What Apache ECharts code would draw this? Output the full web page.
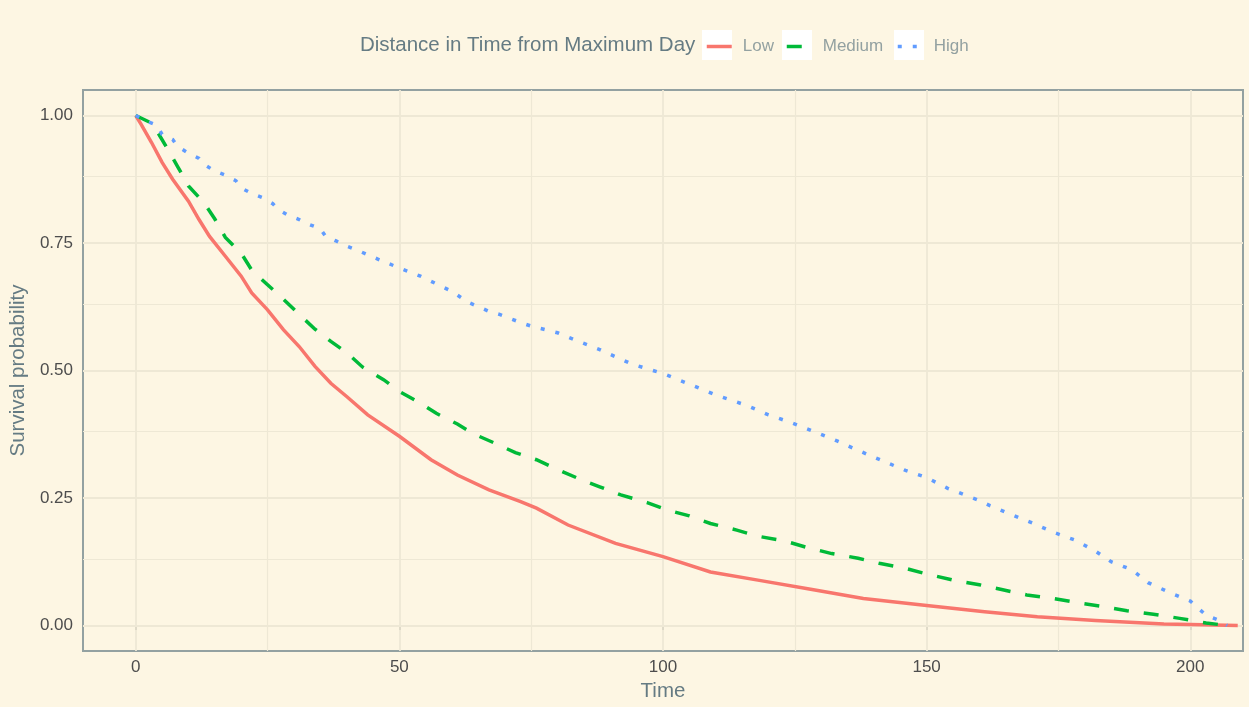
<!DOCTYPE html>
<html>
<head>
<meta charset="utf-8">
<script src="https://cdn.jsdelivr.net/npm/echarts@6/dist/echarts.min.js"></script>
<style>
  html, body { margin: 0; padding: 0; background: #FDF6E3; }
  #chart { width: 1249px; height: 707px; }
</style>
</head>
<body>
<div id="chart"></div>
<script>
// Kaplan-Meier survival estimates by distance-in-time group
const lowTime = [0, 1, 3, 5, 7, 10, 12, 14, 17, 20, 22, 25, 28, 31, 34, 37, 40, 44, 50, 56, 61, 67, 73, 76, 82, 91, 100, 109, 118, 128, 138, 150, 161, 171, 182, 195, 200, 209];
const lowSurv = [1.000, 0.983, 0.947, 0.908, 0.875, 0.832, 0.796, 0.763, 0.724, 0.685, 0.652, 0.619, 0.580, 0.547, 0.508, 0.475, 0.449, 0.413, 0.371, 0.325, 0.295, 0.266, 0.243, 0.230, 0.197, 0.161, 0.135, 0.105, 0.089, 0.071, 0.053, 0.039, 0.027, 0.017, 0.010, 0.003, 0.002, 0.000];

const medTime = [0, 3, 4, 6, 8, 10, 13, 15, 17, 20, 22, 25, 28, 31, 34, 37, 40, 43, 47, 50, 54, 57, 61, 64, 68, 72, 76, 80, 84, 88, 92, 97, 101, 105, 109, 114, 118, 123, 127, 132, 137, 141, 146, 150, 155, 160, 164, 169, 174, 179, 183, 188, 193, 198, 203, 207];
const medSurv = [1.000, 0.985, 0.970, 0.935, 0.899, 0.862, 0.828, 0.797, 0.761, 0.730, 0.697, 0.668, 0.640, 0.610, 0.581, 0.557, 0.535, 0.507, 0.482, 0.459, 0.436, 0.416, 0.395, 0.376, 0.358, 0.339, 0.325, 0.306, 0.288, 0.272, 0.256, 0.241, 0.226, 0.215, 0.200, 0.187, 0.175, 0.166, 0.154, 0.141, 0.132, 0.122, 0.112, 0.101, 0.089, 0.080, 0.071, 0.060, 0.053, 0.044, 0.038, 0.029, 0.022, 0.014, 0.005, 0.000];

const highTime = [0, 2, 4, 5, 7, 8, 10, 12, 13, 15, 17, 19, 20, 22, 24, 26, 27, 29, 31, 33, 35, 36, 38, 40, 42, 46, 50, 54, 58, 60, 63, 67, 69, 73, 75, 80, 84, 88, 94, 100, 106, 110, 116, 120, 124, 127, 133, 136, 140, 146, 150, 154, 160, 162, 166, 170, 174, 178, 182, 185, 189, 192, 196, 200, 203, 205, 207];
const highSurv = [1.000, 0.989, 0.981, 0.963, 0.953, 0.939, 0.926, 0.916, 0.904, 0.891, 0.883, 0.872, 0.858, 0.847, 0.839, 0.827, 0.816, 0.804, 0.796, 0.786, 0.778, 0.763, 0.754, 0.744, 0.736, 0.718, 0.701, 0.685, 0.665, 0.655, 0.634, 0.616, 0.610, 0.594, 0.587, 0.574, 0.557, 0.541, 0.513, 0.494, 0.469, 0.452, 0.431, 0.413, 0.399, 0.387, 0.362, 0.348, 0.330, 0.304, 0.290, 0.269, 0.245, 0.235, 0.218, 0.201, 0.183, 0.168, 0.146, 0.125, 0.109, 0.084, 0.065, 0.048, 0.020, 0.012, 0.000];

const groupNames = ['Low', 'Medium', 'High'];
const groupColors = ['#F8766D', '#00BA38', '#619CFF'];

// axis breaks and gridlines
const xTicks = [0, 50, 100, 150, 200];
const xMinor = [25, 75, 125, 175];
const yTicks = [0, 0.25, 0.5, 0.75, 1];
const yMinor = [0.125, 0.375, 0.625, 0.875];

const legendTitle = 'Distance in Time from Maximum Day';
const xTitle = 'Time';
const yTitle = 'Survival probability';

const zip = (t, v) => t.map((x, i) => [x, v[i]]);

const FONT = 'Liberation Sans, Arial, Helvetica, sans-serif';
const GRID_COL = '#EEE8D5';

const gridLines = [].concat(
  xMinor.map(v => ({ xAxis: v, lineStyle: { width: 1.2 } })),
  yMinor.map(v => ({ yAxis: v, lineStyle: { width: 1.2 } })),
  xTicks.map(v => ({ xAxis: v, lineStyle: { width: 1.8 } })),
  yTicks.map(v => ({ yAxis: v, lineStyle: { width: 1.8 } }))
);

const lineStyles = [
  { width: 3.5, type: 'solid' },
  { width: 3.5, type: [15, 15], cap: 'butt' },
  { width: 3.5, type: [4, 11], cap: 'butt' }
];
const seriesData = [zip(lowTime, lowSurv), zip(medTime, medSurv), zip(highTime, highSurv)];

const chart = echarts.init(document.getElementById('chart'), null, { renderer: 'canvas' });

const legendLeft = [705, 785, 896];
const keyBoxLeft = [702, 782, 894];

chart.setOption({
  animation: false,
  backgroundColor: '#FDF6E3',
  textStyle: { fontFamily: FONT },
  title: {
    text: legendTitle,
    left: 360,
    top: 35,
    padding: 0,
    textStyle: { fontFamily: FONT, fontSize: 20.5, fontWeight: 'normal', color: '#657B83' }
  },
  legend: groupNames.map((name, i) => ({
    data: [name],
    left: legendLeft[i],
    top: 38,
    padding: 0,
    itemWidth: 25,
    itemHeight: 14,
    selectedMode: false,
    z: 5,
    itemStyle: { opacity: 0 },
    lineStyle: { width: 3.5 },
    textStyle: { fontFamily: FONT, fontSize: 17, color: '#93A1A1', padding: [0, 0, 0, 6] }
  })),
  graphic: keyBoxLeft.map(x => ({
    type: 'rect',
    z: 1,
    shape: { x: x, y: 30, width: 30, height: 30 },
    style: { fill: '#FFFFFF' }
  })),
  grid: {
    left: 83, right: 6, top: 90, bottom: 56,
    show: true,
    backgroundColor: 'transparent',
    borderColor: '#93A1A1',
    borderWidth: 2
  },
  xAxis: {
    type: 'value',
    min: -10, max: 210,
    name: xTitle,
    nameLocation: 'middle',
    nameGap: 27,
    nameTextStyle: { fontFamily: FONT, fontSize: 20.5, color: '#657B83' },
    axisLine: { show: false },
    axisTick: { show: true, length: 4.5, customValues: xTicks, lineStyle: { color: '#333333', width: 1.6 } },
    axisLabel: { customValues: xTicks, margin: 8, fontFamily: FONT, fontSize: 17, color: '#4D4D4D', formatter: v => String(v) },
    splitLine: { show: false },
    minorSplitLine: { show: false }
  },
  yAxis: {
    type: 'value',
    min: -0.05, max: 1.05,
    name: yTitle,
    nameLocation: 'middle',
    nameGap: 45,
    nameTextStyle: { fontFamily: FONT, fontSize: 20.5, color: '#657B83' },
    axisLine: { show: false },
    axisTick: { show: true, length: 4.5, customValues: yTicks, lineStyle: { color: '#333333', width: 1.6 } },
    axisLabel: { customValues: yTicks, margin: 10, lineHeight: 17, padding: [7, 0, 0, 0], fontFamily: FONT, fontSize: 17, color: '#4D4D4D', formatter: v => v.toFixed(2) },
    splitLine: { show: false },
    minorSplitLine: { show: false }
  },
  series: [
    {
      type: 'line',
      name: 'gridlines',
      data: [],
      silent: true,
      z: 1,
      markLine: {
        silent: true,
        z: 1,
        animation: false,
        symbol: ['none', 'none'],
        label: { show: false },
        emphasis: { disabled: true },
        lineStyle: { color: GRID_COL, type: 'solid' },
        data: gridLines
      }
    }
  ].concat(groupNames.map((name, i) => ({
    type: 'line',
    name: name,
    data: seriesData[i],
    showSymbol: false,
    symbol: 'none',
    z: 3,
    color: groupColors[i],
    lineStyle: Object.assign({ color: groupColors[i], join: 'miter' }, lineStyles[i]),
    emphasis: { disabled: true }
  })))
});
</script>
</body>
</html>
